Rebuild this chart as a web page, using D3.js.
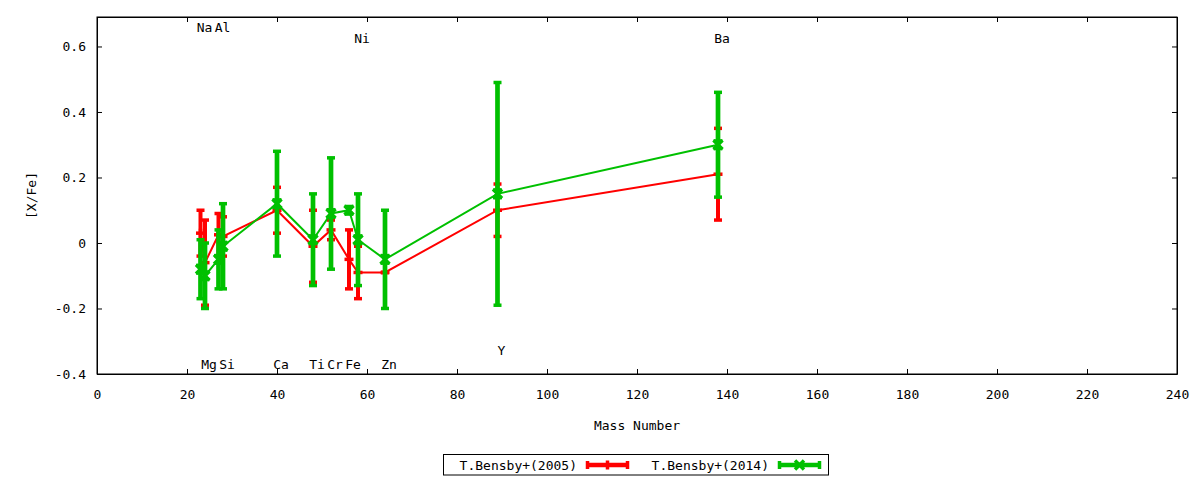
<!DOCTYPE html>
<html>
<head>
<meta charset="utf-8">
<script src="https://cdn.jsdelivr.net/npm/d3@7"></script>
<style>
  body { margin: 0; background: #fff; }
  svg text { font-family: "DejaVu Sans Mono", monospace; font-size: 13px; fill: #000; }
</style>
</head>
<body>
<svg id="chart" width="1200" height="480"></svg>
<script>
// elements and their mass numbers
var elements = ["Na", "Mg", "Al", "Si", "Ca", "Ti", "Cr", "Fe", "Ni", "Zn", "Y", "Ba"];
var massNumber = [23, 24, 27, 28, 40, 48, 52, 56, 58, 64, 89, 138];

// [X/Fe] with errors
var bensby2005 = [0.03, -0.06, 0.025, 0.02, 0.10, -0.01, 0.04, -0.05, -0.09, -0.09, 0.10, 0.21];
var bensby2005Err = [0.07, 0.13, 0.065, 0.06, 0.07, 0.11, 0.03, 0.09, 0.08, 0.0, 0.08, 0.14];
var bensby2014 = [-0.08, -0.10, -0.05, -0.01, 0.12, 0.01, 0.09, 0.10, 0.01, -0.05, 0.15, 0.30];
var bensby2014Err = [0.09, 0.10, 0.09, 0.13, 0.16, 0.14, 0.17, 0.01, 0.14, 0.15, 0.34, 0.16];

// element labels: y position in [X/Fe] units
var labelY = [0.658, -0.37, 0.658, -0.37, -0.37, -0.37, -0.37, -0.37, 0.627, -0.37, -0.328, 0.627];

var xTicks = [0, 20, 40, 60, 80, 100, 120, 140, 160, 180, 200, 220, 240];
var yTicks = [-0.4, -0.2, 0, 0.2, 0.4, 0.6];

var seriesNames = ["T.Bensby+(2005)", "T.Bensby+(2014)"];
var seriesColors = ["#ff0000", "#00c000"];

var plotLeft = 97, plotRight = 1177, plotTop = 17, plotBottom = 374;
var svg = d3.select("#chart");

var x = d3.scaleLinear().domain([0, 240]).range([plotLeft, plotRight]);
var y = d3.scaleLinear().domain([-0.4, 0.69]).range([plotBottom, plotTop]);

// axes, ticks pointing inward, mirrored on top and right
svg.append("g").attr("transform", "translate(0," + plotBottom + ")")
	.call(d3.axisBottom(x).tickValues(xTicks).tickFormat(d3.format("d")).tickSize(-5).tickSizeOuter(0).tickPadding(16));
svg.append("g").attr("transform", "translate(0," + plotTop + ")")
	.call(d3.axisTop(x).tickValues(xTicks).tickFormat("").tickSize(-5).tickSizeOuter(0));
svg.append("g").attr("transform", "translate(" + plotLeft + ",0)")
	.call(d3.axisLeft(y).tickValues(yTicks).tickFormat(function(d){ return String(+d.toFixed(1)); }).tickSize(-5).tickSizeOuter(0).tickPadding(11));
svg.append("g").attr("transform", "translate(" + plotRight + ",0)")
	.call(d3.axisRight(y).tickValues(yTicks).tickFormat("").tickSize(-5).tickSizeOuter(0));
svg.selectAll(".tick text").attr("font-family", null).attr("font-size", null)
	.style("font-family", "DejaVu Sans Mono").style("font-size", "13px");
svg.selectAll("g").attr("font-family", null).attr("font-size", null);
svg.selectAll(".domain, .tick line").attr("stroke", "#000");

svg.append("rect").attr("x", plotLeft).attr("y", plotTop).attr("width", plotRight - plotLeft).attr("height", plotBottom - plotTop)
	.attr("fill", "none").attr("stroke", "#000").attr("stroke-width", 1);

// axis titles
svg.append("text").attr("x", (plotLeft + plotRight) / 2).attr("y", 430).attr("text-anchor", "middle").text("Mass Number");
svg.append("text").attr("transform", "translate(36," + (plotTop + plotBottom) / 2 + ") rotate(-90)")
	.attr("text-anchor", "middle").text("[X/Fe]");

// element labels
elements.forEach(function(el, i){
	svg.append("text").attr("x", x(massNumber[i]) + 4).attr("y", y(labelY[i]) + 5)
		.attr("text-anchor", "middle").text(el);
});

var drawPoint = function(g, cx, cy, kind, color) {
	if (kind == 0) {
		g.append("line").attr("x1", cx - 4.5).attr("x2", cx + 4.5).attr("y1", cy).attr("y2", cy)
			.attr("stroke", color).attr("stroke-width", 3.5);
		g.append("line").attr("x1", cx).attr("x2", cx).attr("y1", cy - 4.5).attr("y2", cy + 4.5)
			.attr("stroke", color).attr("stroke-width", 3.5);
	} else {
		g.append("path").attr("d", "M" + (cx - 4.5) + "," + (cy - 4.5) + "L" + (cx + 4.5) + "," + (cy + 4.5)
			+ "M" + (cx - 4.5) + "," + (cy + 4.5) + "L" + (cx + 4.5) + "," + (cy - 4.5))
			.attr("stroke", color).attr("stroke-width", 3.5).attr("fill", "none");
		g.append("line").attr("x1", cx - 4.5).attr("x2", cx + 4.5).attr("y1", cy - 4).attr("y2", cy - 4)
			.attr("stroke", color).attr("stroke-width", 3);
		g.append("line").attr("x1", cx - 4.5).attr("x2", cx + 4.5).attr("y1", cy + 4).attr("y2", cy + 4)
			.attr("stroke", color).attr("stroke-width", 3);
	}
};

var drawSeries = function(values, errs, color, kind, barWidth) {
	var g = svg.append("g");
	var pts = massNumber.map(function(m, i){ return [m, values[i], errs[i]]; });
	var line = d3.line().x(function(d){ return x(d[0]); }).y(function(d){ return y(d[1]); });
	g.append("path").datum(pts).attr("d", line).attr("fill", "none").attr("stroke", color).attr("stroke-width", 2);
	pts.forEach(function(d){
		var cx = x(d[0]), y1 = y(d[1] + d[2]), y2 = y(d[1] - d[2]);
		g.append("line").attr("x1", cx).attr("x2", cx).attr("y1", y1).attr("y2", y2)
			.attr("stroke", color).attr("stroke-width", barWidth);
		[y1, y2].forEach(function(cy){
			g.append("line").attr("x1", cx - 4).attr("x2", cx + 4).attr("y1", cy).attr("y2", cy)
				.attr("stroke", color).attr("stroke-width", 3.5);
		});
		drawPoint(g, cx, y(d[1]), kind, color);
	});
};

drawSeries(bensby2005, bensby2005Err, seriesColors[0], 0, 4);
drawSeries(bensby2014, bensby2014Err, seriesColors[1], 1, 4.7);

// legend
var legend = svg.append("g");
legend.append("rect").attr("x", 443.5).attr("y", 454.5).attr("width", 385).attr("height", 20.5)
	.attr("fill", "#fff").attr("stroke", "#000").attr("stroke-width", 1);
var legX = [[577, 586, 629], [769, 778, 821]];
seriesNames.forEach(function(name, i){
	var ly = 465;
	legend.append("text").attr("x", legX[i][0]).attr("y", ly + 5).attr("text-anchor", "end").text(name);
	legend.append("line").attr("x1", legX[i][1]).attr("x2", legX[i][2]).attr("y1", ly).attr("y2", ly)
		.attr("stroke", seriesColors[i]).attr("stroke-width", 4.5);
	[legX[i][1] + 1.5, legX[i][2] - 1.5].forEach(function(cx){
		legend.append("line").attr("x1", cx).attr("x2", cx).attr("y1", ly - 4).attr("y2", ly + 4)
			.attr("stroke", seriesColors[i]).attr("stroke-width", 3.5);
	});
	var mid = (legX[i][1] + legX[i][2]) / 2;
	if (i == 0) {
		legend.append("line").attr("x1", mid).attr("x2", mid).attr("y1", ly - 4.5).attr("y2", ly + 4.5)
			.attr("stroke", seriesColors[i]).attr("stroke-width", 3.5);
	} else {
		legend.append("path").attr("d", "M" + (mid - 4.5) + "," + (ly - 4.5) + "L" + (mid + 4.5) + "," + (ly + 4.5)
			+ "M" + (mid - 4.5) + "," + (ly + 4.5) + "L" + (mid + 4.5) + "," + (ly - 4.5))
			.attr("stroke", seriesColors[i]).attr("stroke-width", 3.5);
	}
});
</script>
</body>
</html>
